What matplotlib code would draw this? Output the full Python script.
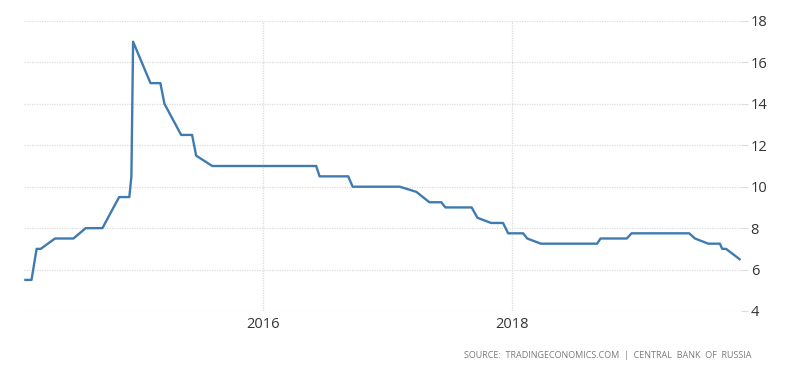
import matplotlib
matplotlib.use("Agg")
import matplotlib.pyplot as plt
import pandas as pd

dates = ["2014-02-03", "2014-02-21", "2014-03-08", "2014-03-20", "2014-05-01", "2014-06-24",
         "2014-07-30", "2014-09-17", "2014-11-05", "2014-12-05", "2014-12-11", "2014-12-16",
         "2015-02-05", "2015-03-06", "2015-03-18", "2015-05-06", "2015-06-07", "2015-06-19",
         "2015-08-05", "2016-06-05", "2016-06-15", "2016-09-07", "2016-09-20", "2017-02-05",
         "2017-03-26", "2017-05-03", "2017-06-07", "2017-06-19", "2017-09-04", "2017-09-21",
         "2017-10-31", "2017-12-05", "2017-12-20", "2018-02-02", "2018-02-14", "2018-03-26",
         "2018-09-07", "2018-09-17", "2018-12-03", "2018-12-17", "2019-06-04", "2019-06-21",
         "2019-07-30", "2019-09-02", "2019-09-09", "2019-09-20", "2019-10-30"]
rates = [5.5, 5.5, 7.0, 7.0, 7.5, 7.5,
         8.0, 8.0, 9.5, 9.5, 10.5, 17.0,
         15.0, 15.0, 14.0, 12.5, 12.5, 11.5,
         11.0, 11.0, 10.5, 10.5, 10.0, 10.0,
         9.75, 9.25, 9.25, 9.0, 9.0, 8.5,
         8.25, 8.25, 7.75, 7.75, 7.5, 7.25,
         7.25, 7.5, 7.5, 7.75, 7.75, 7.5,
         7.25, 7.25, 7.0, 7.0, 6.5]
yticks = [4, 6, 8, 10, 12, 14, 16, 18]
xtick_dates = ["2016-01-01", "2018-01-01"]
xtick_labels = ["2016", "2018"]
source = "SOURCE:  TRADINGECONOMICS.COM  |  CENTRAL  BANK  OF  RUSSIA"

x = pd.to_datetime(dates)

fig = plt.figure(figsize=(8, 3.73), dpi=100)
ax = fig.add_axes([24 / 800, 1 - 311 / 373, (741 - 24) / 800, 290 / 373])
ax.plot(x, rates, color="#3f7bb0", linewidth=1.7, solid_joinstyle="round")

ax.set_ylim(4, 18)
ax.set_xlim(x[0] - pd.Timedelta(days=4), x[-1] + pd.Timedelta(days=4))
ax.set_yticks(yticks)
ax.set_yticklabels([str(v) for v in yticks])
ax.set_xticks(pd.to_datetime(xtick_dates))
ax.set_xticklabels(xtick_labels)

ax.yaxis.tick_right()
for s in ax.spines.values():
    s.set_visible(False)
ax.grid(True, color="#dcdcdc", linestyle=(0, (1, 1)), linewidth=0.9)
ax.tick_params(axis="y", length=5, width=0.8, color="#dcdcdc", pad=2,
               labelsize=10.5, labelcolor="#333333")
ax.tick_params(axis="x", length=0, pad=4, labelsize=10.5, labelcolor="#333333")
for lab in ax.get_xticklabels() + ax.get_yticklabels():
    lab.set_family("Open Sans")

fig.text(752 / 800, 1 - 355 / 373, source, ha="right", va="center",
         fontsize=6.5, color="#7a7a7a", family="Open Sans")

fig.savefig("out.png", dpi=100)
